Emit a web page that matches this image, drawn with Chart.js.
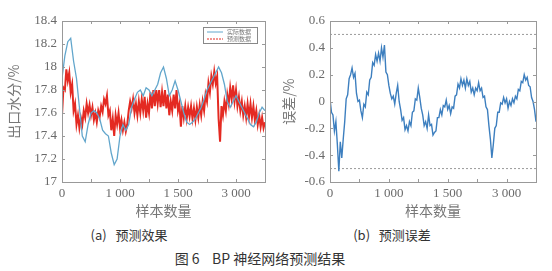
<!DOCTYPE html>
<html lang="zh-CN">
<head>
<meta charset="utf-8">
<script src="https://cdn.jsdelivr.net/npm/chart.js@4"></script>
<style>
  body { margin: 0; width: 552px; height: 271px; background: #fff; position: relative; overflow: hidden; }
  .box { position: absolute; top: 0; }
  .cap { position: absolute; font-family: "Noto Sans CJK SC", sans-serif; color: #333; white-space: pre; transform: translateX(-50%); }
</style>
</head>
<body>
<div class="box" style="left:0"><canvas id="chartA" width="275" height="222"></canvas></div>
<div class="box" style="left:275px"><canvas id="chartB" width="277" height="222"></canvas></div>
<div class="cap" style="left:129px; top:225px; font-size:13px">(a)   预测效果</div>
<div class="cap" style="left:392px; top:225px; font-size:13px">(b)   预测误差</div>
<div class="cap" style="left:260px; top:248px; font-size:14px">图 6    BP 神经网络预测结果</div>
<script>
// DATA
const xTickText = { 0: "0", 1000: "1 000", 2000: "1 500", 3000: "3 000" };
const legendNames = ["实际数据", "预测数据"];
const actualStep = 50;
const actual = [
  17.9, 18.1, 18.22, 18.25, 18.05, 17.9, 17.65, 17.4, 17.35, 17.5,
  17.6, 17.62, 17.6, 17.55, 17.45, 17.42, 17.4, 17.25, 17.15, 17.2,
  17.4, 17.5, 17.45, 17.5, 17.65, 17.72, 17.78, 17.8, 17.75, 17.82,
  17.8, 17.75, 17.8, 17.85, 17.95, 18.0, 17.9, 17.75, 17.8, 17.88,
  17.8, 17.7, 17.6, 17.52, 17.5, 17.52, 17.55, 17.6, 17.65, 17.72,
  17.8, 17.85, 17.9, 17.95, 18.0, 17.95, 17.85, 17.7, 17.65, 17.7,
  17.75, 17.7, 17.65, 17.6, 17.55, 17.5, 17.48, 17.52, 17.6, 17.65,
  17.62
];
const predictedStep = 25;
const predicted = [
  17.58, 17.82, 17.80, 17.98, 17.88, 17.95, 17.78, 17.85, 17.62, 17.68,
  17.50, 17.58, 17.47, 17.56, 17.50, 17.62, 17.56, 17.68, 17.60, 17.67,
  17.58, 17.65, 17.54, 17.60, 17.52, 17.62, 17.57, 17.66, 17.61, 17.72,
  17.68, 17.75, 17.58, 17.62, 17.45, 17.55, 17.40, 17.58, 17.50, 17.60,
  17.47, 17.54, 17.45, 17.52, 17.44, 17.50, 17.62, 17.70, 17.64, 17.72,
  17.60, 17.68, 17.58, 17.70, 17.60, 17.72, 17.62, 17.74, 17.56, 17.68,
  17.60, 17.78, 17.64, 17.80, 17.66, 17.80, 17.68, 17.80, 17.65, 17.78,
  17.66, 17.80, 17.64, 17.76, 17.58, 17.70, 17.62, 17.76, 17.64, 17.80,
  17.62, 17.68, 17.48, 17.66, 17.56, 17.66, 17.55, 17.65, 17.57, 17.66,
  17.55, 17.64, 17.54, 17.65, 17.56, 17.67, 17.58, 17.70, 17.62, 17.76,
  17.70, 17.86, 17.78, 17.92, 17.85, 17.96, 17.86, 17.92, 17.55, 17.35,
  17.66, 17.58, 17.70, 17.62, 17.76, 17.68, 17.82, 17.72, 17.84, 17.70,
  17.80, 17.66, 17.74, 17.62, 17.70, 17.58, 17.66, 17.56, 17.68, 17.57,
  17.68, 17.56, 17.66, 17.54, 17.62, 17.50, 17.58, 17.48, 17.56, 17.47,
  17.52
];
const errorStep = 25;
const errorVals = [
  0.02, -0.08, -0.10, -0.22, -0.15, -0.32, -0.52, -0.30, -0.42, -0.28,
  -0.15, 0.02, 0.05, 0.17, 0.20, 0.25, 0.18, 0.21, 0.06, 0.0,
  0.01, -0.07, -0.12, -0.02, -0.04, 0.07, 0.05, 0.16, 0.18, 0.29,
  0.27, 0.35, 0.30, 0.36, 0.30, 0.40, 0.33, 0.42, 0.22, 0.20,
  0.12, 0.06, 0.02, 0.04, -0.02, 0.06, 0.12, 0.0, -0.06, -0.14,
  -0.12, -0.21, -0.18, -0.22, -0.15, -0.18, -0.08, -0.07, 0.02, 0.01,
  0.10, 0.03, -0.05, -0.10, -0.18, -0.15, -0.20, -0.10, -0.18, -0.17,
  -0.25, -0.23, -0.22, -0.12, -0.12, -0.06, -0.10, -0.03, -0.04, 0.01,
  -0.06, -0.03, -0.09, -0.04, -0.05, 0.04, 0.05, 0.13, 0.10, 0.17,
  0.12, 0.16, 0.10, 0.17, 0.12, 0.15, 0.07, 0.10, 0.05, 0.10,
  0.08, 0.14, 0.08, 0.10, 0.03, 0.04, -0.04, -0.06, -0.18, -0.28,
  -0.42, -0.32, -0.20, -0.18, -0.08, -0.08, -0.01, -0.02, 0.03, -0.01,
  0.02, -0.05, 0.0, -0.03, 0.02, -0.01, 0.04, 0.02, 0.09, 0.08,
  0.15, 0.14, 0.20, 0.16, 0.18, 0.12, 0.11, 0.03, 0.0, -0.06,
  -0.15
];
const errorLimits = [0.5, -0.5];

const toPoints = (arr, step) => arr.map((v, i) => ({ x: i * step, y: v }));

const tickFont = { family: "'Liberation Serif', serif", size: 13 };
const titleFont = { family: "'Noto Sans CJK SC', sans-serif", size: 14 };
const txtColor = "#6a6a6a";

// frame + inward ticks like matlab
const framePlugin = {
  id: "frame",
  afterDraw(chart) {
    const ctx = chart.ctx, a = chart.chartArea;
    ctx.save();
    ctx.strokeStyle = "#999";
    ctx.lineWidth = 1;
    ctx.strokeRect(Math.round(a.left) + 0.5, Math.round(a.top) + 0.5, Math.round(a.right - a.left), Math.round(a.bottom - a.top));
    const xs = chart.scales.x, ys = chart.scales.y;
    ctx.beginPath();
    xs.ticks.forEach(t => {
      const px = Math.round(xs.getPixelForValue(t.value)) + 0.5;
      ctx.moveTo(px, a.bottom); ctx.lineTo(px, a.bottom - 3);
      ctx.moveTo(px, a.top); ctx.lineTo(px, a.top + 3);
    });
    ys.ticks.forEach(t => {
      const py = Math.round(ys.getPixelForValue(t.value)) + 0.5;
      ctx.moveTo(a.left, py); ctx.lineTo(a.left + 3, py);
      ctx.moveTo(a.right, py); ctx.lineTo(a.right - 3, py);
    });
    ctx.stroke();
    ctx.restore();
  }
};

const legendPlugin = {
  id: "miniLegend",
  afterDraw(chart) {
    if (!chart.options.plugins.miniLegend) return;
    const ctx = chart.ctx, a = chart.chartArea;
    const x0 = a.right - 62, y0 = a.top + 6, w = 54, h = 16;
    ctx.save();
    ctx.strokeStyle = "#888";
    ctx.lineWidth = 1;
    ctx.strokeRect(x0 + 0.5, y0 + 0.5, w, h);
    chart.data.datasets.forEach((ds, i) => {
      const y = y0 + 5 + i * 7;
      ctx.strokeStyle = ds.borderColor;
      ctx.setLineDash(i === 1 ? [2, 1] : []);
      ctx.beginPath();
      ctx.moveTo(x0 + 4, y); ctx.lineTo(x0 + 20, y);
      ctx.stroke();
      ctx.setLineDash([]);
      ctx.fillStyle = "#777";
      ctx.font = "6px 'Noto Sans CJK SC'";
      ctx.textBaseline = "middle";
      ctx.fillText(legendNames[i], x0 + 24, y);
    });
    ctx.restore();
  }
};

function xScale() {
  return {
    type: "linear", min: 0, max: 3500,
    grid: { display: false, drawTicks: false },
    border: { display: false },
    ticks: {
      stepSize: 500, autoSkip: false, maxRotation: 0, padding: 4,
      color: txtColor, font: tickFont,
      callback: v => (xTickText[v] !== undefined ? xTickText[v] : "")
    },
    title: { display: true, text: "样本数量", color: "#777", font: titleFont, padding: { top: 0, bottom: 3 } },
    afterFit: s => { s.height = 40; }
  };
}

function yScale(min, max, title, width) {
  return {
    min: min, max: max,
    grid: { display: false, drawTicks: false },
    border: { display: false },
    ticks: {
      stepSize: 0.2, padding: 5, color: txtColor, font: tickFont,
      callback: v => String(+v.toFixed(1))
    },
    title: { display: true, text: title, color: "#777", font: titleFont, padding: { top: 5, bottom: 0 } },
    afterFit: s => { s.width = width; }
  };
}

new Chart(document.getElementById("chartA"), {
  type: "line",
  data: {
    datasets: [
      { label: legendNames[0], data: toPoints(actual, actualStep), borderColor: "#62a6cc", borderWidth: 1.3 },
      { label: legendNames[1], data: toPoints(predicted, predictedStep), borderColor: "#e42a22", borderWidth: 2 }
    ]
  },
  options: {
    responsive: false, animation: false,
    elements: { point: { radius: 0 }, line: { tension: 0 } },
    layout: { padding: { top: 21, right: 10, left: 0, bottom: 0 } },
    plugins: { legend: { display: false }, tooltip: { enabled: false }, miniLegend: true },
    scales: { x: xScale(), y: yScale(17, 18.4, "出口水分/%", 62) }
  },
  plugins: [framePlugin, legendPlugin]
});

new Chart(document.getElementById("chartB"), {
  type: "line",
  data: {
    datasets: [
      { data: toPoints(errorVals, errorStep), borderColor: "#3d7fbf", borderWidth: 1.4 },
      ...errorLimits.map(l => ({
        data: [{ x: 0, y: l }, { x: 3500, y: l }],
        borderColor: "#999", borderWidth: 1, borderDash: [2, 2]
      }))
    ]
  },
  options: {
    responsive: false, animation: false,
    elements: { point: { radius: 0 }, line: { tension: 0 } },
    layout: { padding: { top: 21, right: 16, left: 0, bottom: 0 } },
    plugins: { legend: { display: false }, tooltip: { enabled: false } },
    scales: { x: xScale(), y: yScale(-0.6, 0.6, "误差/%", 55) }
  },
  plugins: [framePlugin]
});
</script>
</body>
</html>
